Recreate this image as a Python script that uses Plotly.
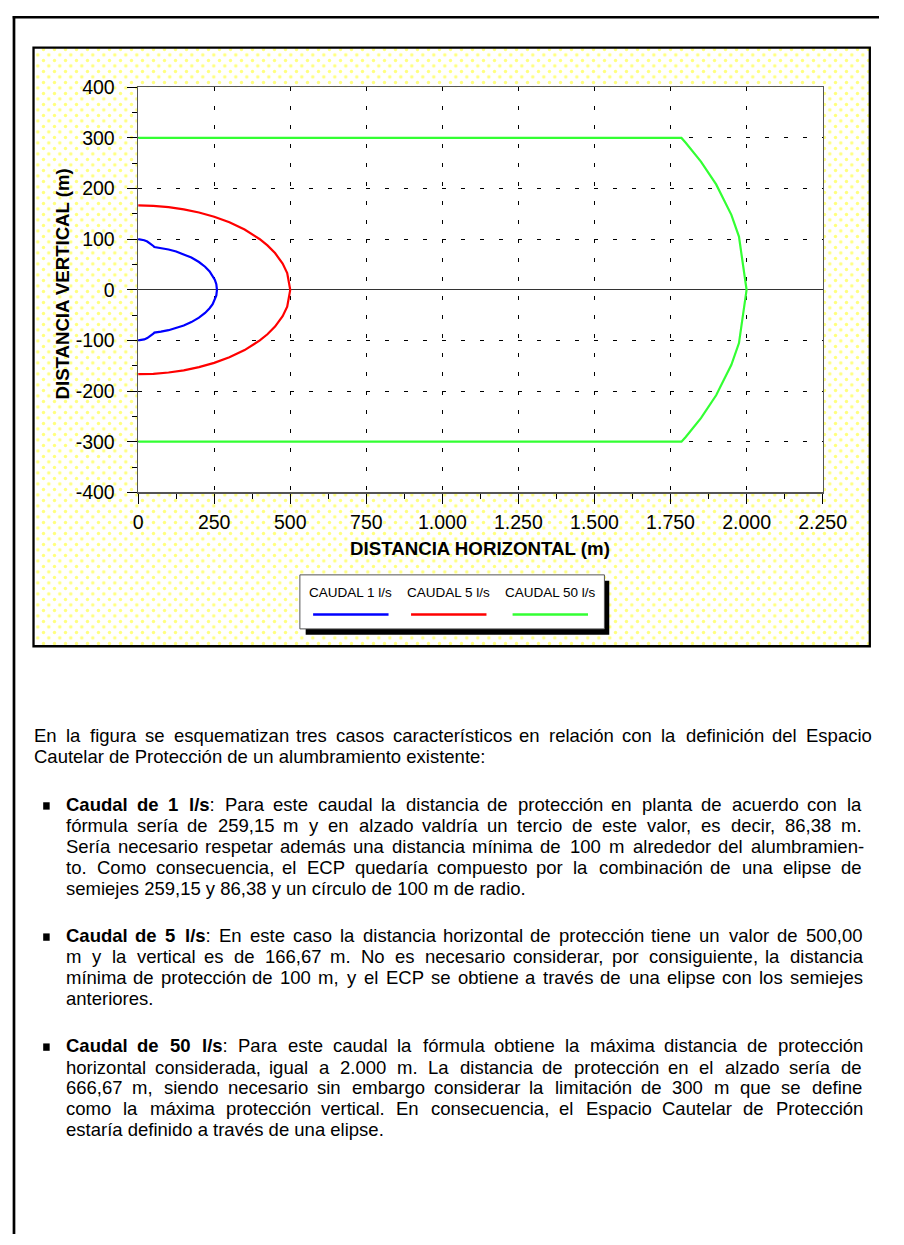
import plotly.graph_objects as go

W, H = 904, 1245

# ---------------- data ----------------
SERIES_NAMES = ["CAUDAL 1 l/s", "CAUDAL 5 l/s", "CAUDAL 50 l/s"]
SERIES_COLORS = ["#0000FF", "#FF0000", "#33FF33"]

q1_x = [0, 10, 20, 30, 40, 50, 53.4, 75, 100, 125, 150, 175, 200, 220, 235, 245, 252, 257, 259.15,
        257, 252, 245, 235, 220, 200, 175, 150, 125, 100, 75, 53.4, 50, 40, 30, 20, 10, 0]
q1_y = [100, 99.5, 97.98, 95.39, 91.65, 86.6, 84.54, 82.68, 79.69, 75.67, 70.44, 63.71, 54.93, 45.65,
        36.41, 28.15, 20.15, 11.13, 0,
        -11.13, -20.15, -28.15, -36.41, -45.65, -54.93, -63.71, -70.44, -75.67, -79.69, -82.68,
        -84.54, -86.6, -91.65, -95.39, -97.98, -99.5, -100]

q5_x = [0, 50, 100, 150, 200, 250, 300, 350, 400, 425, 450, 475, 490, 500,
        490, 475, 450, 425, 400, 350, 300, 250, 200, 150, 100, 50, 0]
q5_y = [166.67, 165.83, 163.3, 158.99, 152.75, 144.34, 133.33, 119.02, 100, 87.8, 72.65, 52.04, 33.17, 0,
        -33.17, -52.04, -72.65, -87.8, -100, -119.02, -133.33, -144.34, -152.75, -158.99, -163.3,
        -165.83, -166.67]

q50_x = [0, 1786, 1800, 1850, 1900, 1950, 1975, 2000, 1975, 1950, 1900, 1850, 1800, 1786, 0]
q50_y = [300, 300, 290.6, 253.3, 208.2, 148.1, 105.1, 0, -105.1, -148.1, -208.2, -253.3, -290.6, -300, -300]

x_tickvals = [0, 250, 500, 750, 1000, 1250, 1500, 1750, 2000, 2250]
x_ticktext = ["0", "250", "500", "750", "1.000", "1.250", "1.500", "1.750", "2.000", "2.250"]
y_tickvals = [-400, -300, -200, -100, 0, 100, 200, 300, 400]
y_ticktext = ["-400", "-300", "-200", "-100", "0", "100", "200", "300", "400"]

X_TITLE = "DISTANCIA HORIZONTAL (m)"
Y_TITLE = "DISTANCIA VERTICAL (m)"

PARA_INTRO = [
    "En la figura se esquematizan tres casos característicos en relación con la definición del Espacio",
    "Cautelar de Protección de un alumbramiento existente:",
]
BULLET_1 = [
    "**Caudal de 1 l/s**: Para este caudal la distancia de protección en planta de acuerdo con la",
    "fórmula sería de 259,15 m y en alzado valdría un tercio de este valor, es decir, 86,38 m.",
    "Sería necesario respetar además una distancia mínima de 100 m alrededor del alumbramien-",
    "to. Como consecuencia, el ECP quedaría compuesto por la combinación de una elipse de",
    "semiejes 259,15 y 86,38 y un círculo de 100 m de radio.",
]
BULLET_2 = [
    "**Caudal de 5 l/s**: En este caso la distancia horizontal de protección tiene un valor de 500,00",
    "m y la vertical es de 166,67 m. No es necesario considerar, por consiguiente, la distancia",
    "mínima de protección de 100 m, y el ECP se obtiene a través de una elipse con los semiejes",
    "anteriores.",
]
BULLET_3 = [
    "**Caudal de 50 l/s**: Para este caudal la fórmula obtiene la máxima distancia de protección",
    "horizontal considerada, igual a 2.000 m. La distancia de protección en el alzado sería de",
    "666,67 m, siendo necesario sin embargo considerar la limitación de 300 m que se define",
    "como la máxima protección vertical. En consecuencia, el Espacio Cautelar de Protección",
    "estaría definido a través de una elipse.",
]

# ---------------- helpers ----------------
FONT = "Liberation Sans, Arial, sans-serif"

REG = {' ': 278, ',': 278, '-': 333, '.': 278, '/': 278, ':': 278, '(': 333, ')': 333}
for d in "0123456789":
    REG[d] = 556
REG.update(dict(A=667, B=667, C=722, D=722, E=667, F=611, G=778, H=722, I=278, J=500, K=667, L=556,
                M=833, N=722, O=778, P=667, Q=778, R=722, S=667, T=611, U=722, V=667, W=944, X=667,
                Y=667, Z=611))
REG.update(dict(a=556, b=556, c=500, d=556, e=556, f=278, g=556, h=556, i=222, j=222, k=500, l=222,
                m=833, n=556, o=556, p=556, q=556, r=333, s=500, t=278, u=556, v=500, w=722, x=500,
                y=500, z=500))
REG.update({'á': 556, 'é': 556, 'í': 278, 'ó': 556, 'ú': 556, 'ñ': 556})
BOLD = dict(REG)
BOLD.update({':': 333, 'C': 722, 'a': 556, 'u': 611, 'd': 611, 'l': 278, 'e': 556, 's': 556})


def tw(s, bold, size):
    tab = BOLD if bold else REG
    return sum(tab.get(ch, 556) for ch in s) * size / 1000.0


def parse(line):
    runs = []
    for i, p in enumerate(line.split('**')):
        if p:
            runs.append((p, i % 2 == 1))
    words, cur = [], []
    for txt, b in runs:
        pieces = txt.split(' ')
        for j, pc in enumerate(pieces):
            if j > 0 and cur:
                words.append(cur)
                cur = []
            if pc:
                cur.append((pc, b))
    if cur:
        words.append(cur)
    return words


annotations = []
shapes = []

TXT_SIZE = 18.5


def txt_ann(html, x, y, size, anchor='left'):
    return dict(x=x, y=y, xref='x', yref='y', text=html, showarrow=False,
                xanchor=anchor, yanchor='middle', borderpad=0, borderwidth=0,
                font=dict(family=FONT, size=size, color='black'))


def add_line(line, x0, x1, yc, justify, size=TXT_SIZE):
    words = parse(line)
    if not justify:
        html = ' '.join(''.join(('<b>%s</b>' % t) if b else t for t, b in w) for w in words)
        annotations.append(txt_ann(html, x0, yc, size))
        return
    widths = [sum(tw(t, b, size) for t, b in w) for w in words]
    gap = (x1 - x0 - sum(widths)) / (len(words) - 1)
    x = x0
    for w, wd in zip(words, widths):
        html = ''.join(('<b>%s</b>' % t) if b else t for t, b in w)
        annotations.append(txt_ann(html, x, yc, size))
        x += wd + gap


def add_par(lines, x0, x1, ys):
    for k, (ln, yc) in enumerate(zip(lines, ys)):
        add_line(ln, x0, x1, yc, justify=(k < len(lines) - 1))


# ---------------- figure ----------------
fig = go.Figure()

BX0, BY0, BX1, BY1 = 29.5, 37.2, 894.5, 646.7
PX0, PY0, PX1, PY1 = 137.7, 77.7, 845.7, 490.0
PAT = 11.0          # dot screen period (px)
OFF = PAT / 2.0     # staggered second layer offset
SOLID = 0.075

# dotted yellow screen: two staggered dot layers on full-page helper axes (pixel units)
box_x = [BX0, BX1, BX1, BX0, BX0]
box_y = [BY0, BY0, BY1, BY1, BY0]
fig.add_trace(go.Scatter(
    x=box_x, y=box_y, mode='lines', line=dict(width=0), fill='toself', fillcolor='white',
    fillpattern=dict(shape='.', fgcolor='#FFFF00', bgcolor='white', size=PAT, solidity=SOLID),
    hoverinfo='skip', xaxis='x', yaxis='y'))
fig.add_trace(go.Scatter(
    x=box_x, y=box_y, mode='lines', line=dict(width=0), fill='toself',
    fillcolor='rgba(0,0,0,0)',
    fillpattern=dict(shape='.', fgcolor='#FFFF00', bgcolor='rgba(0,0,0,0)', size=PAT,
                     solidity=SOLID),
    hoverinfo='skip', xaxis='x2', yaxis='y2'))
fig.add_trace(go.Scatter(
    x=[PX0, PX1, PX1, PX0, PX0], y=[PY0, PY0, PY1, PY1, PY0],
    mode='lines', line=dict(width=0), fill='toself', fillcolor='white',
    hoverinfo='skip', xaxis='x2', yaxis='y2'))

for xs, ys, name, col in zip([q1_x, q5_x, q50_x], [q1_y, q5_y, q50_y], SERIES_NAMES, SERIES_COLORS):
    fig.add_trace(go.Scatter(x=xs, y=ys, name=name, mode='lines',
                             line=dict(color=col, width=2.2), xaxis='x3', yaxis='y3'))

# page border lines
shapes.append(dict(type='line', xref='x', yref='y', x0=8, y0=6.3, x1=W + 5, y1=6.3,
                   line=dict(color='black', width=2.5)))
shapes.append(dict(type='line', xref='x', yref='y', x0=9.3, y0=5, x1=9.3, y1=H + 5,
                   line=dict(color='black', width=2.7)))
# panel border
shapes.append(dict(type='rect', xref='x', yref='y', x0=BX0, y0=BY0, x1=BX1, y1=BY1,
                   line=dict(color='black', width=2.3)))

# legend (shadow, box, samples, labels)
shapes.append(dict(type='rect', xref='x', yref='y', x0=311, y0=580, x1=625, y1=635,
                   fillcolor='black', line=dict(width=0)))
shapes.append(dict(type='rect', xref='x', yref='y', x0=305, y0=574, x1=620, y1=629,
                   fillcolor='white', line=dict(color='#555555', width=1)))
leg_cx = [357.7, 459.0, 564.0]
for cx, name, col in zip(leg_cx, SERIES_NAMES, SERIES_COLORS):
    shapes.append(dict(type='line', xref='x', yref='y', x0=cx - 39, x1=cx + 39, y0=614.3, y1=614.3,
                       line=dict(color=col, width=2.5)))
    annotations.append(txt_ann(name, cx, 592, 13.5, anchor='center'))

# axis titles
annotations.append(txt_ann('<b>%s</b>' % X_TITLE, (PX0 + PX1) / 2, 547, 18.7, anchor='center'))
yt = txt_ann('<b>%s</b>' % Y_TITLE, 59.3, 278, 18.6, anchor='center')
yt['textangle'] = -90
annotations.append(yt)

# body text
add_par(PARA_INTRO, 29.5, 894, [737.5, 759.0])
add_par(BULLET_1, 63.3, 885, [808, 829.5, 850.5, 871.5, 893])
add_par(BULLET_2, 63.3, 885, [941.5, 963, 984, 1005.5])
add_par(BULLET_3, 63.3, 885, [1053.5, 1075, 1096, 1117, 1139])
for yb in [808, 941.5, 1053.5]:
    shapes.append(dict(type='rect', xref='x', yref='y', x0=39.5, x1=46.2, y0=yb - 2.5, y1=yb + 5,
                       fillcolor='black', line=dict(width=0)))

axis_common = dict(ticks='outside', ticklen=10, tickwidth=1, tickcolor='black',
                   tickfont=dict(family=FONT, size=19.5, color='black'),
                   showgrid=True, gridcolor='black', gridwidth=1, griddash='4px,15px',
                   showline=True, linecolor='#555555', linewidth=1.5, mirror=True)

fig.update_layout(
    width=W, height=H, margin=dict(l=0, r=0, t=0, b=0, pad=0),
    paper_bgcolor='white', plot_bgcolor='rgba(0,0,0,0)', showlegend=False,
    font=dict(family=FONT, color='black'),
    xaxis=dict(domain=[0, 1], range=[0, W], visible=False, fixedrange=True),
    yaxis=dict(domain=[0, 1], range=[H, 0], visible=False, fixedrange=True),
    xaxis2=dict(domain=[OFF / W, 1], range=[OFF, W], visible=False, fixedrange=True, anchor='y2'),
    yaxis2=dict(domain=[0, 1 - OFF / H], range=[H, OFF], visible=False, fixedrange=True,
                anchor='x2'),
    xaxis3=dict(domain=[PX0 / W, PX1 / W], anchor='y3', range=[0, 2250],
                tickmode='array', tickvals=x_tickvals, ticktext=x_ticktext,
                ticklabelstandoff=2, zeroline=False,
                minor=dict(tick0=0, dtick=125, ticks='outside', ticklen=5, tickcolor='black',
                           showgrid=False),
                **axis_common),
    yaxis3=dict(domain=[1 - PY1 / H, 1 - PY0 / H], anchor='x3', range=[-400, 400],
                tickmode='array', tickvals=y_tickvals, ticktext=y_ticktext,
                ticklabelstandoff=8,
                zeroline=True, zerolinecolor='#333333', zerolinewidth=1.3,
                minor=dict(tick0=0, dtick=50, ticks='outside', ticklen=5, tickcolor='black',
                           showgrid=False),
                **axis_common),
    shapes=shapes, annotations=annotations,
)

fig.write_html("out.html", config={'displayModeBar': False, 'staticPlot': True},
               post_script="document.body.style.margin='0';document.body.style.overflow='hidden';")
